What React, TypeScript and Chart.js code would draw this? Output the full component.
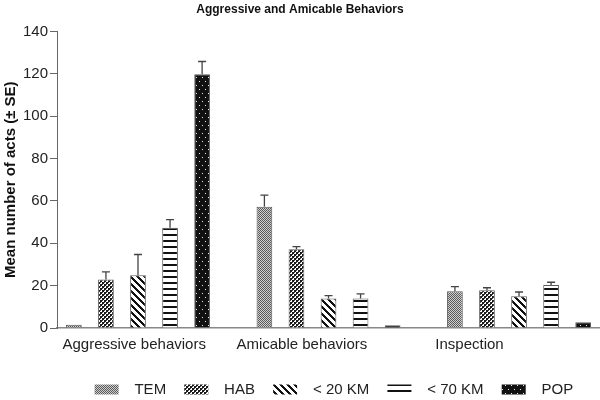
import React, { useEffect, useRef } from 'react';
import { Chart, registerables } from 'chart.js';

Chart.register(...registerables);

const TITLE = 'Aggressive and Amicable Behaviors';
const Y_TITLE = 'Mean number of acts (± SE)';
const CATEGORIES = ['Aggressive behaviors', 'Amicable behaviors', 'Inspection'];
const SERIES = ['TEM', 'HAB', '< 20 KM', '< 70 KM', 'POP'];

const TEM = [1.5, 57.2, 17.3];
const TEM_SE = [0, 5.5, 2.2];
const HAB = [22.9, 37.2, 17.8];
const HAB_SE = [3.6, 1.2, 1.2];
const KM20 = [24.9, 13.9, 15.0];
const KM20_SE = [9.8, 1.4, 2.0];
const KM70 = [47.3, 13.9, 20.3];
const KM70_SE = [3.9, 2.2, 1.3];
const POP = [119.8, 1.3, 2.7];
const POP_SE = [6.0, 0, 0];

const Y_TICKS = [0, 20, 40, 60, 80, 100, 120, 140];

const VALUES = [TEM, HAB, KM20, KM70, POP];
const ERRORS = [TEM_SE, HAB_SE, KM20_SE, KM70_SE, POP_SE];

// styling / layout constants
const LABEL_SHIFT = [-0.02, -0.14, -0.26];
const LEGEND_DX = 36;
const LEGEND_DY = 7;
const FONT = '"Liberation Sans", Arial, Helvetica, sans-serif';

function makePattern(kind: string): CanvasPattern | string {
  const c = document.createElement('canvas');
  const ctx = c.getContext('2d');
  if (!ctx) return '#888';
  const px = (x: number, y: number, col: string) => {
    ctx.fillStyle = col;
    ctx.fillRect(x, y, 1, 1);
  };
  if (kind === 'TEM') {
    c.width = 4; c.height = 4;
    ctx.fillStyle = '#cfcfcf';
    ctx.fillRect(0, 0, 4, 4);
    for (let y = 0; y < 4; y++) for (let x = 0; x < 4; x++) if ((x + y) % 2 === 0) px(x, y, '#5a5a5a');
  } else if (kind === 'HAB') {
    c.width = 4; c.height = 4;
    ctx.fillStyle = '#ffffff';
    ctx.fillRect(0, 0, 4, 4);
    ctx.fillStyle = '#1a1a1a';
    ctx.fillRect(0, 0, 2, 2);
    ctx.fillRect(2, 2, 2, 2);
    px(2, 0, '#444'); px(0, 2, '#444');
  } else if (kind === 'KM20') {
    const n = 7;
    c.width = n; c.height = n;
    ctx.fillStyle = '#ffffff';
    ctx.fillRect(0, 0, n, n);
    for (let y = 0; y < n; y++) for (let x = 0; x < n; x++) if (((x - y) % n + n) % n < 3) px(x, y, '#111');
  } else if (kind === 'KM70') {
    c.width = 4; c.height = 6;
    ctx.fillStyle = '#ffffff';
    ctx.fillRect(0, 0, 4, 6);
    ctx.fillStyle = '#111';
    ctx.fillRect(0, 0, 4, 2);
  } else {
    c.width = 6; c.height = 8;
    ctx.fillStyle = '#111';
    ctx.fillRect(0, 0, 6, 8);
    px(1, 1, '#eeeeee');
    px(4, 5, '#eeeeee');
  }
  return ctx.createPattern(c, 'repeat') || '#888';
}

const PATTERN_KINDS = ['TEM', 'HAB', 'KM20', 'KM70', 'POP'];

const errorBars = {
  id: 'errorBars',
  afterDatasetsDraw(chart: any) {
    const ctx = chart.ctx;
    const yScale = chart.scales.y;
    ctx.save();
    ctx.strokeStyle = '#444';
    ctx.lineWidth = 1.3;
    chart.data.datasets.forEach((ds: any, i: number) => {
      const meta = chart.getDatasetMeta(i);
      meta.data.forEach((el: any, j: number) => {
        const se = ERRORS[i][j];
        if (!se) return;
        const v = VALUES[i][j];
        const yTop = yScale.getPixelForValue(v + se);
        const x = el.x;
        ctx.beginPath();
        ctx.moveTo(x, el.y);
        ctx.lineTo(x, yTop);
        ctx.moveTo(x - 4, yTop);
        ctx.lineTo(x + 4, yTop);
        ctx.stroke();
      });
    });
    ctx.restore();
  },
};

const legendShift = {
  id: 'legendShift',
  afterLayout(chart: any) {
    const l = chart.legend;
    if (!l) return;
    l.left += LEGEND_DX;
    l.right += LEGEND_DX;
    l.top += LEGEND_DY;
    l.bottom += LEGEND_DY;
  },
};

export default function App() {
  const ref = useRef<HTMLCanvasElement | null>(null);

  useEffect(() => {
    if (!ref.current) return;
    const datasets = SERIES.map((name, i) => {
      const pat = makePattern(PATTERN_KINDS[i]);
      return {
        label: name,
        data: VALUES[i].map((v, j) => ({ x: j, y: v })),
        backgroundColor: pat,
        borderColor: '#5a5a5a',
        borderWidth: 1,
        categoryPercentage: 0.956,
        barPercentage: 0.49,
      };
    });

    const chart = new Chart(ref.current, {
      type: 'bar',
      data: { datasets } as any,
      plugins: [errorBars, legendShift],
      options: {
        animation: false,
        responsive: false,
        maintainAspectRatio: false,
        layout: { padding: 0 },
        plugins: {
          tooltip: { enabled: false },
          title: {
            display: true,
            text: TITLE,
            color: '#111',
            font: { family: FONT, size: 12, weight: 'bold' },
            padding: { top: 2, bottom: 15 },
          },
          legend: {
            position: 'bottom',
            labels: {
              boxWidth: 24,
              boxHeight: 10,
              padding: 14,
              color: '#222',
              font: { family: FONT, size: 15 },
              generateLabels: (ch: any) =>
                Chart.defaults.plugins.legend.labels
                  .generateLabels(ch)
                  .map((l: any) => ({ ...l, text: '  ' + l.text + ' ', lineWidth: 0 })),
            },
          },
        },
        scales: {
          x: {
            type: 'linear',
            offset: false,
            min: -0.425,
            max: 2.425,
            grid: { display: false, drawTicks: false },
            border: { display: true, color: '#888', width: 1.6 },
            afterBuildTicks: (scale: any) => {
              scale.ticks = CATEGORIES.map((_, i) => ({ value: i + LABEL_SHIFT[i] }));
            },
            ticks: {
              autoSkip: false,
              maxRotation: 0,
              padding: 7.5,
              color: '#222',
              font: { family: FONT, size: 15 },
              callback: (_v: any, idx: number) => CATEGORIES[idx],
            },
          },
          y: {
            min: 0,
            max: 140,
            afterBuildTicks: (scale: any) => {
              scale.ticks = Y_TICKS.map((v) => ({ value: v }));
            },
            grid: { display: true, drawOnChartArea: false, drawTicks: true, tickLength: 7, color: '#666' },
            border: { display: true, color: '#666', width: 1 },
            ticks: {
              padding: 2,
              color: '#222',
              font: { family: FONT, size: 15 },
            },
            title: {
              display: true,
              text: Y_TITLE,
              color: '#111',
              font: { family: FONT, size: 15, weight: 'bold' },
              padding: { top: 2, bottom: 1 },
            },
          },
        },
      } as any,
    });
    return () => chart.destroy();
  }, []);

  return (
    <div style={{ position: 'absolute', left: 0, top: 0, width: 600, height: 400, background: '#fff' }}>
      <canvas ref={ref} width={600} height={400} />
    </div>
  );
}
